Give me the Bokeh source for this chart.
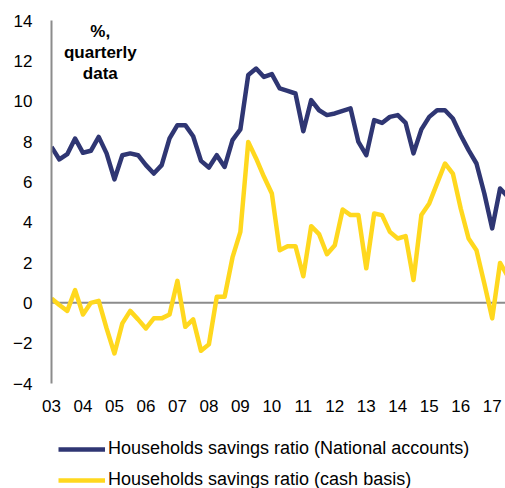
from bokeh.plotting import figure
from bokeh.layouts import column
from bokeh.models import Range1d, FixedTicker, Span, Label, Legend, LegendItem
from bokeh.embed import file_html
from bokeh.resources import INLINE

# Year labels (one label every 4 quarters, starting 2003Q1)
years = ["03", "04", "05", "06", "07", "08", "09", "10", "11", "12", "13", "14", "15", "16", "17"]

# Households savings ratio (National accounts), %, quarterly from 2003Q1
national = [7.73, 7.11, 7.37, 8.15, 7.44, 7.54, 8.23, 7.41, 6.12, 7.32,
            7.41, 7.32, 6.83, 6.41, 6.83, 8.15, 8.81, 8.81, 8.26, 7.04,
            6.71, 7.32, 6.74, 8.07, 8.60, 11.30, 11.62, 11.20, 11.34, 10.63,
            10.51, 10.38, 8.51, 10.05, 9.55, 9.31, 9.39, 9.52, 9.64, 7.98,
            7.32, 9.06, 8.92, 9.22, 9.31, 8.92, 7.41, 8.60, 9.22, 9.55,
            9.55, 9.14, 8.31, 7.57, 6.91, 5.42, 3.69, 5.67, 5.25]

# Households savings ratio (cash basis), %, quarterly from 2003Q1
cash = [0.22, -0.11, -0.40, 0.63, -0.58, 0.00, 0.10, -1.27, -2.51, -1.02,
        -0.40, -0.82, -1.27, -0.77, -0.77, -0.58, 1.09, -1.19, -0.82, -2.38,
        -2.06, 0.30, 0.30, 2.25, 3.52, 7.98, 7.16, 6.25, 5.42, 2.61,
        2.81, 2.81, 1.32, 3.80, 3.41, 2.41, 2.86, 4.63, 4.35, 4.35,
        1.71, 4.43, 4.35, 3.52, 3.19, 3.31, 1.13, 4.35, 4.93, 5.92,
        6.91, 6.41, 4.68, 3.19, 2.61, 0.96, -0.77, 1.98, 1.30]

series_names = ["Households savings ratio (National accounts)",
                "Households savings ratio (cash basis)"]

quarters = list(range(len(national)))
y_ticks = [-4, -2, 0, 2, 4, 6, 8, 10, 12, 14]

BLUE = "#2f3673"
YELLOW = "#ffd81e"
GREY = "#8c8c8c"
FONT = "Liberation Sans"

p = figure(width=505, height=420, output_backend="svg", toolbar_location=None,
           x_range=Range1d(0, 57.69), y_range=Range1d(-4, 14),
           min_border_left=51, min_border_right=0, min_border_top=20,
           min_border_bottom=37)
p.outline_line_color = None
p.xgrid.visible = False
p.ygrid.visible = False

zero = Span(location=0, dimension="width", line_color=GREY, line_width=2, level="underlay")
p.add_layout(zero)

p.line(quarters, national, line_color=BLUE, line_width=4.5, line_join="round")
p.line(quarters, cash, line_color=YELLOW, line_width=4.5, line_join="round")

# x axis
xticks = [i * 4 for i in range(len(years))]
p.xaxis.ticker = FixedTicker(ticks=xticks)
p.xaxis.major_label_overrides = {t: y for t, y in zip(xticks, years)}
p.xaxis.axis_line_color = None
p.xaxis.major_tick_line_color = None
p.xaxis.minor_tick_line_color = None
p.xaxis.major_label_standoff = 10
p.xaxis.major_label_text_font = FONT
p.xaxis.major_label_text_font_size = "17px"
p.xaxis.major_label_text_color = "#000000"

# y axis
p.yaxis.ticker = FixedTicker(ticks=y_ticks)
p.yaxis.axis_line_color = GREY
p.yaxis.axis_line_width = 2
p.yaxis.major_tick_line_color = None
p.yaxis.minor_tick_line_color = None
p.yaxis.major_label_standoff = 13
p.yaxis.major_label_text_font = FONT
p.yaxis.major_label_text_font_size = "17px"
p.yaxis.major_label_text_color = "#000000"

note = Label(x=6.2, y=13.95, text="%,\nquarterly\ndata", text_align="center",
             text_baseline="top", text_font=FONT, text_font_style="bold",
             text_font_size="17px", text_line_height=1.12, text_color="#000000")
p.add_layout(note)

# Legend panel beneath the chart (its lines sit outside its visible range,
# only the legend swatches are shown)
lg = figure(width=505, height=68, output_backend="svg", toolbar_location=None,
            x_range=Range1d(0, 1), y_range=Range1d(100, 101),
            x_axis_location=None, y_axis_location=None,
            min_border_left=51, min_border_right=0, min_border_top=0, min_border_bottom=0)
lg.outline_line_color = None
lg.xgrid.visible = False
lg.ygrid.visible = False
k1 = lg.line(quarters, national, line_color=BLUE, line_width=4.5)
k2 = lg.line(quarters, cash, line_color=YELLOW, line_width=4.5)

legend = Legend(items=[LegendItem(label=series_names[0], renderers=[k1]),
                       LegendItem(label=series_names[1], renderers=[k2])],
                location=(7, -2), glyph_width=47, glyph_height=20, label_height=20,
                label_standoff=3, spacing=10, padding=0, margin=0,
                label_text_font=FONT, label_text_font_size="18px",
                label_text_color="#000000",
                border_line_alpha=0, background_fill_alpha=0)
lg.add_layout(legend)

layout = column(p, lg, spacing=0)
open("out.html", "w").write(file_html(layout, INLINE))
